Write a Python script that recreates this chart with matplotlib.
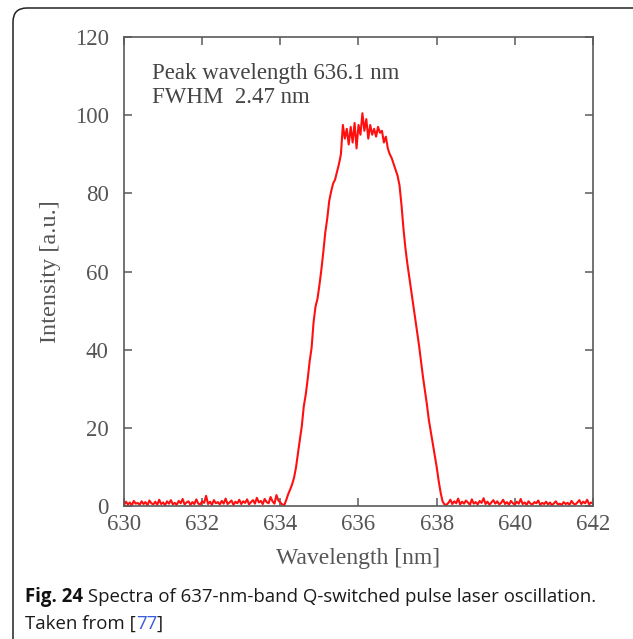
import numpy as np
import matplotlib
matplotlib.use("Agg")
import matplotlib.pyplot as plt
from matplotlib.patches import FancyBboxPatch
from matplotlib.transforms import IdentityTransform

# ---------------- data ----------------
wl_start = 630.0
wl_step = 0.05
x_ticks = [630, 632, 634, 636, 638, 640, 642]
y_ticks = [0, 20, 40, 60, 80, 100, 120]

baseline_left = [
    0.3, 1.1, 0.4, 0.9, 0.2, 1.3, 0.6, 0.8, 0.3, 1.2,
    0.5, 1.0, 0.2, 1.4, 0.7, 0.4, 1.1, 0.3, 1.6, 0.5,
    0.9, 0.2, 1.2, 0.6, 1.5, 0.4, 0.8, 0.3, 1.3, 0.7,
    1.8, 0.4, 0.9, 1.2, 0.3, 1.0, 0.5, 1.7, 0.6, 0.4,
    1.2, 0.8, 2.6, 0.5, 1.1, 0.3, 1.5, 0.7, 1.0, 0.4,
    1.3, 0.6, 1.9, 0.5, 0.9, 1.4, 0.3, 1.1, 0.7, 1.6,
    0.5, 1.2, 0.8, 1.7, 0.4, 1.0, 1.5, 0.6, 2.1, 0.9,
    1.3, 0.5, 1.8, 1.0, 0.7, 2.3, 1.2, 0.6, 2.8, 1.4,
    0.9, 0.4, 0.2,
]
peak = [
    1.5, 3.0, 4.2, 5.5, 7.2, 9.8, 13.5, 17.0, 20.5, 25.5,
    28.5, 32.5, 37.0, 40.5, 47.0, 51.0, 53.0, 56.5, 60.5, 65.0,
    70.0, 73.5, 78.0, 80.5, 82.5, 83.5, 85.5, 87.5, 90.0, 97.5,
    94.0, 96.5, 92.5, 97.0, 93.0, 98.0, 91.5, 97.5, 95.0, 100.5,
    96.0, 99.0, 94.0, 97.5, 95.0, 96.5, 94.5, 97.0, 95.5, 96.0,
    93.0, 94.5, 91.5, 90.0, 89.0, 87.5, 86.0, 84.5, 82.0, 77.0,
    71.0, 66.0, 62.0, 58.5, 55.0, 51.5, 48.0, 44.5, 41.0, 37.0,
    33.0, 29.5, 26.0, 22.0, 19.0, 16.0, 13.0, 10.0, 6.5, 3.5,
    1.2, 0.4,
]
baseline_right = [
    0.3, 0.8, 1.6, 0.5, 1.2, 0.7, 1.9, 0.4, 1.1, 0.6,
    1.4, 0.9, 0.3, 1.7, 0.6, 1.0, 0.4, 1.3, 0.8, 2.0,
    0.5, 1.1, 0.3, 0.9, 1.5, 0.6, 1.2, 0.4, 0.8, 1.6,
    0.5, 1.0, 0.3, 1.3, 0.7, 0.4, 1.1, 0.6, 1.8, 0.5,
    0.9, 0.3, 1.2, 0.6, 0.4, 1.0, 0.7, 1.4, 0.3, 0.8,
    0.5, 1.1, 0.4, 0.9, 0.2, 0.7, 1.2, 0.4, 0.6, 0.3,
    1.0, 0.5, 0.8, 0.3, 1.3, 0.6, 0.4, 0.9, 1.5, 0.5,
    1.1, 0.7, 1.6, 0.4, 0.9, 0.6,
]
intensity = np.array(baseline_left + peak + baseline_right)
wavelength = wl_start + wl_step * np.arange(len(intensity))

annot_lines = ["Peak wavelength 636.1 nm", "FWHM  2.47 nm"]
x_label = "Wavelength [nm]"
y_label = "Intensity [a.u.]"
caption_bold = "Fig. 24"
caption_rest = " Spectra of 637-nm-band Q-switched pulse laser oscillation."
caption_line2 = "Taken from ["
caption_ref = "77"
caption_end = "]"

# ---------------- figure ----------------
W, H = 633, 639
fig = plt.figure(figsize=(W / 100, H / 100), dpi=100)
fig.patch.set_facecolor("white")

# rounded border box (pixel coordinates)
box = FancyBboxPatch((13, -30), 680, H - 8 + 30,
                     boxstyle="round,pad=0,rounding_size=14",
                     transform=IdentityTransform(), fill=False,
                     edgecolor="#222222", linewidth=1.1, clip_on=False)
fig.patches.append(box)

ax_l, ax_r, ax_b, ax_t = 124, 593, 506, 37
ax = fig.add_axes([ax_l / W, 1 - ax_b / H, (ax_r - ax_l) / W, (ax_b - ax_t) / H])

gray = "#5a5a5a"
serif = ["Liberation Serif", "DejaVu Serif"]

ax.plot(wavelength, intensity, color="#ff1010", linewidth=1.5, solid_joinstyle="round")
ax.set_xlim(630, 642)
ax.set_ylim(0, 120)
ax.set_xticks(x_ticks)
ax.set_yticks(y_ticks)
ax.set_xticklabels([str(t) for t in x_ticks])
ax.set_yticklabels([str(t) for t in y_ticks])
for s in ax.spines.values():
    s.set_color(gray)
    s.set_linewidth(1.2)
ax.tick_params(direction="in", length=6, width=1.1, color=gray,
               top=True, right=True, labelsize=16.5, labelcolor="#555555")
ax.tick_params(axis="y", pad=11)
ax.tick_params(axis="x", pad=6)
for lab in ax.get_xticklabels() + ax.get_yticklabels():
    lab.set_fontfamily(serif)

ax.set_xlabel(x_label, fontsize=17, color="#555555", family=serif, labelpad=9)
ax.set_ylabel(y_label, fontsize=17.5, color="#555555", family=serif, labelpad=10)

ax.text(0.06, 0.923, annot_lines[0], transform=ax.transAxes, fontsize=16.5,
        color="#444444", family=serif, va="center", ha="left")
ax.text(0.06, 0.872, annot_lines[1], transform=ax.transAxes, fontsize=16.5,
        color="#444444", family=serif, va="center", ha="left")

# caption
fig.canvas.draw()
renderer = fig.canvas.get_renderer()
cap_font = ["Open Sans", "DejaVu Sans"]
cap_size = 13.4
y1 = 1 - 597 / H
y2 = 1 - 624 / H
t1 = fig.text(25 / W, y1, caption_bold, fontsize=cap_size, fontweight="bold",
              family=cap_font, color="#111111", va="center", ha="left")
bb = t1.get_window_extent(renderer)
fig.text(bb.x1 / W, y1, caption_rest, fontsize=cap_size, family=cap_font,
         color="#1a1a1a", va="center", ha="left")
t3 = fig.text(25 / W, y2, caption_line2, fontsize=cap_size, family=cap_font,
              color="#1a1a1a", va="center", ha="left")
bb3 = t3.get_window_extent(renderer)
t4 = fig.text(bb3.x1 / W, y2, caption_ref, fontsize=cap_size, family=cap_font,
              color="#3a5bd9", va="center", ha="left")
bb4 = t4.get_window_extent(renderer)
fig.text(bb4.x1 / W, y2, caption_end, fontsize=cap_size, family=cap_font,
         color="#1a1a1a", va="center", ha="left")

fig.savefig("out.png", dpi=100)
